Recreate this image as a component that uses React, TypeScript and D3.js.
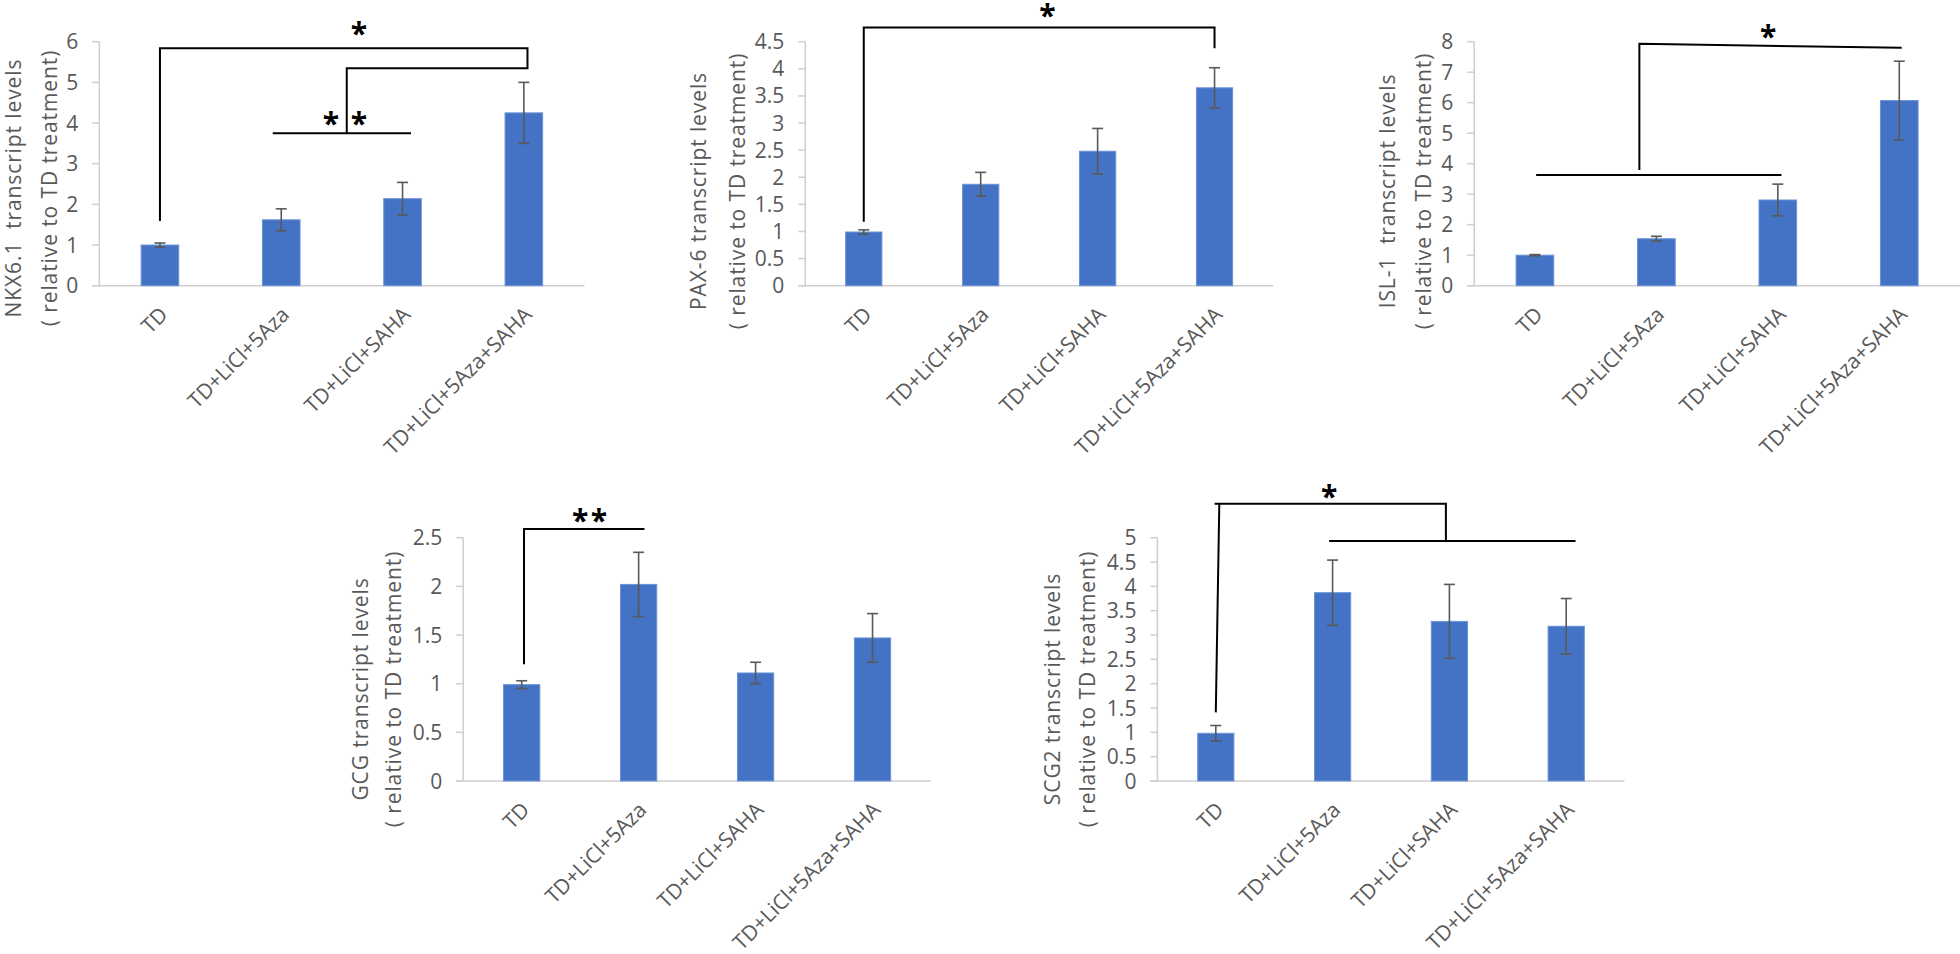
import React from 'react';
import * as d3 from 'd3';

const categories = ['TD', 'TD+LiCl+5Aza', 'TD+LiCl+SAHA', 'TD+LiCl+5Aza+SAHA'];

// means and error bars
const nkxMeans = [1.0, 1.62, 2.14, 4.25];
const nkxErrors = [0.05, 0.27, 0.4, 0.75];
const pax6Means = [0.99, 1.87, 2.48, 3.65];
const pax6Errors = [0.04, 0.22, 0.42, 0.37];
const isl1Means = [1.0, 1.54, 2.81, 6.07];
const isl1Errors = [0.02, 0.08, 0.52, 1.29];
const gcgMeans = [0.99, 2.02, 1.11, 1.47];
const gcgErrors = [0.04, 0.33, 0.11, 0.25];
const scg2Means = [0.98, 3.87, 3.28, 3.18];
const scg2Errors = [0.16, 0.67, 0.76, 0.57];

const nkxTicks = [0, 1, 2, 3, 4, 5, 6];
const pax6Ticks = [0, 0.5, 1, 1.5, 2, 2.5, 3, 3.5, 4, 4.5];
const isl1Ticks = [0, 1, 2, 3, 4, 5, 6, 7, 8];
const gcgTicks = [0, 0.5, 1, 1.5, 2, 2.5];
const scg2Ticks = [0, 0.5, 1, 1.5, 2, 2.5, 3, 3.5, 4, 4.5, 5];

// significance brackets as [category position, value] polylines
const nkxBrackets = [
  [[0, 1.59], [0, 5.84], [3.03, 5.84], [3.03, 5.35], [1.54, 5.35], [1.54, 3.75]],
  [[0.93, 3.75], [2.07, 3.75]],
];
const nkxStars = [[1.64, 6.34], [1.41, 4.12], [1.64, 4.12]];
const pax6Brackets = [[[0, 1.18], [0, 4.76], [3.0, 4.76], [3.0, 4.38]]];
const pax6Stars = [[1.57, 5.09]];
const isl1Brackets = [
  [[0.01, 3.63], [2.03, 3.63]],
  [[0.86, 3.79], [0.86, 7.93], [3.02, 7.8]],
];
const isl1Stars = [[1.92, 8.36]];
const gcgBrackets = [[[0.02, 1.2], [0.02, 2.59], [1.05, 2.59]]];
const gcgStars = [[0.5, 2.73], [0.66, 2.73]];
const scg2Brackets = [
  [[0.0, 1.41], [0.03, 5.7]],
  [[-0.01, 5.7], [1.97, 5.7], [1.97, 4.94]],
  [[0.97, 4.93], [3.08, 4.93]],
];
const scg2Stars = [[0.97, 5.96]];

const FONT = '"Open Sans", "Noto Sans", sans-serif';
const GREY = '#595959';

const Panel = (props) => {
  const {
    means, errors, ticks, title, brackets, stars,
    left, right, top, bottom, titleX1, titleX2, titleY,
  } = props;

  const x = d3.scaleBand().domain(categories).range([left, right])
    .paddingInner(0.69).paddingOuter(0.345);
  const step = x.step();
  const centre = (c) => x(c) + x.bandwidth() / 2;
  const pos = d3.scaleLinear().domain([0, 1]).range([centre(categories[0]), centre(categories[0]) + step]);
  const y = d3.scaleLinear().domain([0, ticks[ticks.length - 1]]).range([bottom, top]);
  const line = d3.line().x((d) => pos(d[0])).y((d) => y(d[1]));

  return (
    <g>
      {/* axes */}
      <line x1={left} x2={left} y1={top} y2={bottom} stroke="#cfcfcf" strokeWidth={1.5} />
      <line x1={left - 7} x2={right} y1={bottom} y2={bottom} stroke="#cfcfcf" strokeWidth={1.5} />
      {ticks.map((t) => (
        <g key={t}>
          <line x1={left - 7} x2={left} y1={y(t)} y2={y(t)} stroke="#cfcfcf" strokeWidth={1.5} />
          <text x={left - 21} y={y(t)} dy="0.36em" textAnchor="end"
            fontSize={21} fill={GREY} fontFamily={FONT}>{String(t)}</text>
        </g>
      ))}

      {/* bars */}
      {categories.map((c, i) => (
        <rect key={c} x={x(c)} width={x.bandwidth()} y={y(means[i])}
          height={bottom - y(means[i])} fill="#4472C4" stroke="#6a93d8" strokeWidth={1} />
      ))}
      {categories.map((c, i) => {
        const cx = centre(c);
        const hi = y(means[i] + errors[i]);
        const lo = y(means[i] - errors[i]);
        return (
          <g key={c} stroke={GREY} strokeWidth={1.6}>
            <line x1={cx} x2={cx} y1={hi} y2={lo} />
            <line x1={cx - 5.5} x2={cx + 5.5} y1={hi} y2={hi} />
            <line x1={cx - 5.5} x2={cx + 5.5} y1={lo} y2={lo} />
          </g>
        );
      })}

      {/* category labels */}
      {categories.map((c) => (
        <text key={c} transform={`translate(${centre(c) + 4}, ${bottom + 25}) rotate(-45)`}
          dy="0.35em" textAnchor="end" fontSize={21} fill={GREY} fontFamily={FONT}>{c}</text>
      ))}

      {/* axis title */}
      <text transform={`translate(${titleX1}, ${titleY}) rotate(-90)`} textAnchor="middle"
        fontSize={21} letterSpacing={0.9} fill={GREY} fontFamily={FONT}
        style={{ whiteSpace: 'pre' }}>{title}</text>
      <text transform={`translate(${titleX2}, ${titleY}) rotate(-90)`} textAnchor="middle"
        fontSize={21} letterSpacing={0.9} fill={GREY} fontFamily={FONT}>( relative to TD treatment)</text>

      {/* significance */}
      {brackets.map((b, i) => (
        <path key={i} d={line(b)} fill="none" stroke="#000" strokeWidth={2} />
      ))}
      {stars.map((s, i) => (
        <text key={i} x={pos(s[0])} y={y(s[1])} dy={16} textAnchor="middle"
          fontSize={30} fontWeight={700} fontFamily={FONT} fill="#000">*</text>
      ))}
    </g>
  );
};

export default function App() {
  return (
    <svg width={1960} height={954} style={{ position: 'absolute', left: 0, top: 0, background: '#fff' }}>
      <Panel means={nkxMeans} errors={nkxErrors} ticks={nkxTicks} title="NKX6.1  transcript levels"
        brackets={nkxBrackets} stars={nkxStars}
        left={99.3} right={584.5} top={41.7} bottom={285.7} titleX1={21} titleX2={57} titleY={188} />
      <Panel means={pax6Means} errors={pax6Errors} ticks={pax6Ticks} title="PAX-6 transcript levels"
        brackets={pax6Brackets} stars={pax6Stars}
        left={805.3} right={1273} top={41.7} bottom={285.7} titleX1={706} titleX2={745} titleY={191} />
      <Panel means={isl1Means} errors={isl1Errors} ticks={isl1Ticks} title="ISL-1  transcript levels"
        brackets={isl1Brackets} stars={isl1Stars}
        left={1474.2} right={1960} top={41.7} bottom={285.7} titleX1={1395} titleX2={1431} titleY={191} />
      <Panel means={gcgMeans} errors={gcgErrors} ticks={gcgTicks} title="GCG transcript levels"
        brackets={gcgBrackets} stars={gcgStars}
        left={463.2} right={931} top={537.7} bottom={781} titleX1={368} titleX2={401} titleY={689} />
      <Panel means={scg2Means} errors={scg2Errors} ticks={scg2Ticks} title="SCG2 transcript levels"
        brackets={scg2Brackets} stars={scg2Stars}
        left={1157.4} right={1624.6} top={537.7} bottom={781} titleX1={1060} titleX2={1095} titleY={689} />
    </svg>
  );
}
